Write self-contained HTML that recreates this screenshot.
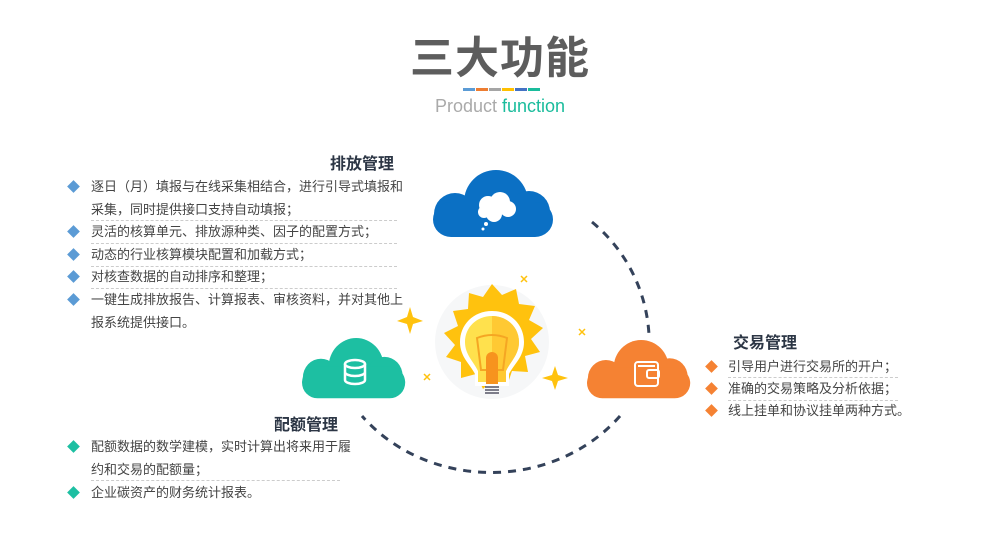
<!DOCTYPE html>
<html><head><meta charset="utf-8"><style>
body{margin:0;width:1000px;height:548px;background:#fff;overflow:hidden;position:relative;font-family:"Liberation Sans","Noto Sans CJK SC",sans-serif;}
.a{position:absolute;}
.t{font-size:16px;font-weight:bold;color:#2c3645;}
.it{position:absolute;font-size:13px;color:#444;line-height:22.7px;white-space:nowrap;}
.sep{position:absolute;border-top:1px dashed #ccc;}
.d{position:absolute;width:9px;height:9px;transform:rotate(45deg);}
</style></head><body>
<div class="a" style="left:0;width:1000px;top:22px;text-align:center;font-size:44px;font-weight:bold;color:#5d5d5d;letter-spacing:1px;">三大功能</div>
<div class="a" style="left:463px;top:88px;width:12px;height:3px;background:#5b9bd5"></div>
<div class="a" style="left:476px;top:88px;width:12px;height:3px;background:#ed7d31"></div>
<div class="a" style="left:489px;top:88px;width:12px;height:3px;background:#a5a5a5"></div>
<div class="a" style="left:502px;top:88px;width:12px;height:3px;background:#ffc000"></div>
<div class="a" style="left:515px;top:88px;width:12px;height:3px;background:#4472c4"></div>
<div class="a" style="left:528px;top:88px;width:12px;height:3px;background:#1abc9c"></div>
<div class="a" style="left:0;width:1000px;top:96px;text-align:center;font-size:18px;color:#aaa;">Product <span style="color:#1abc9c">function</span></div>

<svg class="a" style="left:0;top:0" width="1000" height="548">
<g fill="none" stroke="#34425a" stroke-width="3" stroke-dasharray="8 7">
<path d="M592 222 A157 157 0 0 1 649 335"/>
<path d="M620 416 A165 150 0 0 1 362 416"/>
</g>
<defs><g id="cl"><circle cx="22" cy="44" r="21"/><circle cx="63" cy="32" r="32"/><circle cx="96" cy="42" r="21"/><rect x="0" y="32" width="120" height="35" rx="18"/></g></defs>
<g fill="#0b70c4" transform="translate(433,170)"><use href="#cl"/></g>
<g fill="#fff"><circle cx="488" cy="205" r="9"/><circle cx="500" cy="202" r="10"/><circle cx="508" cy="209" r="8"/><circle cx="494" cy="214" r="8"/><circle cx="484" cy="212" r="6"/><circle cx="486" cy="224" r="2"/><circle cx="483" cy="229" r="1.5"/></g>
<g fill="#1dbfa2" transform="translate(302,338) scale(0.86,0.9)"><use href="#cl"/></g>
<g fill="none" stroke="#fff" stroke-width="2.5"><ellipse cx="355" cy="364" rx="10" ry="4"/><path d="M345 372 a10 4 0 0 0 20 0 M345 380 a10 4 0 0 0 20 0 M345 364 v16 M365 364 v16"/></g>
<g fill="#f58233" transform="translate(587,340) scale(0.86,0.87)"><use href="#cl"/></g>
<g fill="none" stroke="#fff" stroke-width="2"><rect x="635" y="362" width="23" height="24" rx="3"/><rect x="647" y="370" width="12" height="8" rx="2"/><path d="M638 366 h17"/></g>
<circle cx="492" cy="342" r="57" fill="#f6f7f8"/>
<polygon fill="#ffc20e" points="492,284 502,295 516,289 519,304 535,306 529,320 543,328 531,339 540,352 525,356 528,372 512,371 507,386 494,378 483,389 476,374 461,378 461,362 446,357 455,345 444,333 458,326 453,311 468,309 469,293 483,297"/>
<path d="M492 311 c-19 0 -32 14 -32 31 c0 15 10 22 15 32 l0 12 h34 l0 -12 c5 -10 15 -17 15 -32 c0 -17 -13 -31 -32 -31z" fill="#fff"/>
<path d="M492 316 c-15 0 -27 11 -27 26 c0 13 9 20 13 29 l0 11 h28 l0 -11 c4 -9 13 -16 13 -29 c0 -15 -12 -26 -27 -26z" fill="#ffe14d"/>
<path d="M492 316 c15 0 27 11 27 26 c0 13 -9 20 -13 29 l0 11 h-14z" fill="#ffc933"/>
<path d="M477 338 q15 -6 30 0 l-4 32 h-22z" fill="none" stroke="#f5a623" stroke-width="2"/>
<path d="M486 384 v-26 a6 6 0 0 1 12 0 v26z" fill="#f7931e"/>
<g stroke="#556" stroke-width="1.5"><path d="M485 387 h14 M485 390 h14 M485 393 h14"/></g>
<g fill="#ffc20e">
<path d="M410 307 l3 10 l10 4 l-10 3 l-3 10 l-3 -10 l-10 -3 l10 -4z"/>
<path d="M555 366 l3 9 l10 3 l-10 3 l-3 9 l-3 -9 l-10 -3 l10 -3z"/>
</g>
<g stroke="#ffc20e" stroke-width="1.5"><path d="M521 276 l6 6 M527 276 l-6 6 M579 329 l6 6 M585 329 l-6 6 M424 374 l6 6 M430 374 l-6 6"/></g>
</svg>

<div class="a t" style="left:330px;top:150px;">排放管理</div>
<div class="d" style="left:69px;top:182px;background:#5b9bd5"></div>
<div class="d" style="left:69px;top:227px;background:#5b9bd5"></div>
<div class="d" style="left:69px;top:250px;background:#5b9bd5"></div>
<div class="d" style="left:69px;top:272px;background:#5b9bd5"></div>
<div class="d" style="left:69px;top:295px;background:#5b9bd5"></div>
<div class="it" style="left:91px;top:176px;">逐日（月）填报与在线采集相结合，进行引导式填报和<br>采集，同时提供接口支持自动填报；</div>
<div class="sep" style="left:91px;width:306px;top:220px"></div>
<div class="it" style="left:91px;top:221px;">灵活的核算单元、排放源种类、因子的配置方式；</div>
<div class="sep" style="left:91px;width:306px;top:243px"></div>
<div class="it" style="left:91px;top:244px;">动态的行业核算模块配置和加载方式；</div>
<div class="sep" style="left:91px;width:306px;top:266px"></div>
<div class="it" style="left:91px;top:266px;">对核查数据的自动排序和整理；</div>
<div class="sep" style="left:91px;width:306px;top:288px"></div>
<div class="it" style="left:91px;top:289px;">一键生成排放报告、计算报表、审核资料，并对其他上<br>报系统提供接口。</div>

<div class="a t" style="left:274px;top:411px;">配额管理</div>
<div class="d" style="left:69px;top:442px;background:#1dbfa2"></div>
<div class="d" style="left:69px;top:488px;background:#1dbfa2"></div>
<div class="it" style="left:91px;top:436px;">配额数据的数学建模，实时计算出将来用于履<br>约和交易的配额量；</div>
<div class="sep" style="left:91px;width:249px;top:480px"></div>
<div class="it" style="left:91px;top:482px;">企业碳资产的财务统计报表。</div>

<div class="a t" style="left:733px;top:329px;">交易管理</div>
<div class="d" style="left:707px;top:362px;background:#f58233"></div>
<div class="d" style="left:707px;top:384px;background:#f58233"></div>
<div class="d" style="left:707px;top:406px;background:#f58233"></div>
<div class="it" style="left:728px;top:356px;">引导用户进行交易所的开户；</div>
<div class="sep" style="left:728px;width:170px;top:377px"></div>
<div class="it" style="left:728px;top:378px;">准确的交易策略及分析依据；</div>
<div class="sep" style="left:728px;width:170px;top:400px"></div>
<div class="it" style="left:728px;top:400px;">线上挂单和协议挂单两种方式。</div>
</body></html>
